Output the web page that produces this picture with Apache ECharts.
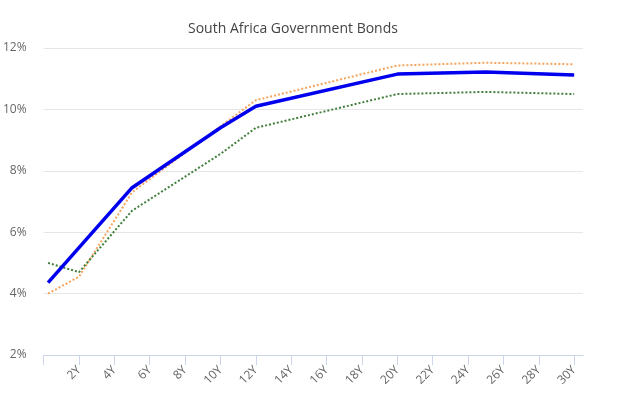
<!DOCTYPE html>
<html><head><meta charset="utf-8">
<script src="https://cdn.jsdelivr.net/npm/echarts@6/dist/echarts.min.js"></script>
<style>html,body{margin:0;padding:0;background:#fff}#c{width:628px;height:398px}</style>
</head><body><div id="c"></div>
<script>
var titleText = 'South Africa Government Bonds';
var maturities = [0.25, 2, 5, 10, 12, 20, 25, 30];
var seriesBlue = [4.36, 5.5, 7.45, 9.4, 10.1, 11.15, 11.22, 11.12];
var seriesOrange = [4.0, 4.55, 7.3, 9.45, 10.3, 11.43, 11.52, 11.47];
var seriesGreen = [5.0, 4.7, 6.7, 8.55, 9.4, 10.5, 10.57, 10.5];
var xTicks = [0, 2, 4, 6, 8, 10, 12, 14, 16, 18, 20, 22, 24, 26, 28, 30];
var xLabels = [2, 4, 6, 8, 10, 12, 14, 16, 18, 20, 22, 24, 26, 28, 30];

function pairs(vals){ return maturities.map(function(m,i){ return [m, vals[i]]; }); }

var chart = echarts.init(document.getElementById('c'), null, {renderer:'canvas'});
chart.setOption({
  animation: false,
  title: {
    text: titleText, left: 183, top: 17,
    textStyle: {fontFamily: 'Open Sans', fontSize: 14, fontWeight: 'normal', color: '#444'}
  },
  grid: {left: 43.5, right: 45, top: 48, bottom: 43, containLabel: false},
  xAxis: {
    type: 'value', min: 0, max: 30.5, interval: 2,
    axisLine: {show: true, lineStyle: {color: '#ccd6eb', width: 1}},
    axisTick: {show: true, length: 10, lineStyle: {color: '#ccd6eb'}, customValues: xTicks},
    axisLabel: {rotate: 45, margin: 13, fontFamily: 'Open Sans', fontSize: 12, color: '#666',
      customValues: xLabels, formatter: function(v){ return v + 'Y'; }},
    splitLine: {show: false}
  },
  yAxis: {
    type: 'value', min: 2, max: 12, interval: 2,
    axisLine: {show: false}, axisTick: {show: false},
    axisLabel: {margin: 17, fontFamily: 'Open Sans', fontSize: 12, color: '#666',
      formatter: function(v){ return v + '%'; }},
    splitLine: {show: true, lineStyle: {color: '#e6e6e6', width: 1}}
  },
  series: [
    {type: 'line', data: pairs(seriesOrange), showSymbol: false, z: 2,
     lineStyle: {color: '#f7a35c', width: 2, type: [2, 2]}},
    {type: 'line', data: pairs(seriesGreen), showSymbol: false, z: 2,
     lineStyle: {color: '#3f7f3a', width: 2, type: [2, 2]}},
    {type: 'line', data: pairs(seriesBlue), showSymbol: false, z: 3,
     lineStyle: {color: '#0000ee', width: 3.5}}
  ]
});
</script></body></html>
